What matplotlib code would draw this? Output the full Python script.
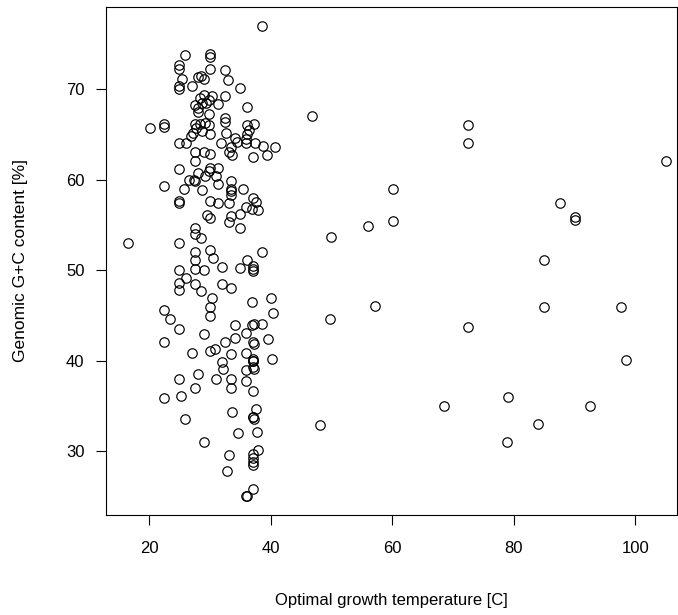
import matplotlib
matplotlib.use("Agg")
import matplotlib.pyplot as plt

plt.rcParams['font.family'] = ['Liberation Sans', 'DejaVu Sans']

# Optimal growth temperature [C]
temperature = [
    38.6, 26.0, 30.0, 30.0, 25.0, 25.0, 30.0, 32.5, 25.5, 28.0, 28.6, 29.1, 33.0, 35.0, 25.0, 25.0,
    27.0, 29.0, 28.4, 30.3, 29.9, 29.4, 32.5, 27.6, 31.4, 28.0, 28.1, 28.7, 36.1, 29.9, 32.5, 32.5,
    20.1, 22.5, 22.5, 27.6, 28.4, 29.2, 29.8, 27.7, 28.8, 27.3, 26.9, 30.1, 36.1, 37.2, 36.5, 36.2,
    32.7, 34.2, 36.0,
    25.0, 26.1, 31.9, 33.5, 33.1, 33.6, 34.4, 36.0, 37.5, 38.8, 40.8, 37.1, 39.4, 27.5, 29.0, 30.0,
    27.5, 25.0, 30.0, 31.3, 29.8, 28.0, 29.2, 31.0, 26.5, 27.4, 27.6, 31.4, 33.5, 22.5, 25.8, 28.7,
    33.5, 33.5, 33.5, 35.5, 25.0, 25.0, 30.0, 31.3, 33.1, 37.1, 37.6, 36.0, 37.0, 38.0, 35.0, 33.5,
    29.5, 30.0, 33.1, 35.0, 27.5, 27.5, 28.5, 25.0, 27.5, 30.0, 30.5, 27.5, 38.6, 36.1,
    25.0, 27.5, 29.1, 32.0, 35.0, 37.1, 37.1, 37.1, 26.1, 25.0, 25.0, 27.5, 28.5, 32.0, 33.5, 30.3,
    30.0, 30.0, 37.0, 40.0, 40.4, 22.5, 23.5, 25.0, 29.0, 22.5, 34.1, 36.9, 37.2, 38.6, 36.0, 34.1,
    32.5, 37.1, 37.2, 39.6, 30.9, 30.0, 27.0, 33.5, 36.0, 37.1, 37.1, 37.1, 40.3, 32.0, 32.1, 37.1,
    37.3, 36.0, 28.1, 31.0, 33.5, 25.0, 36.0, 27.5, 33.5, 37.1,
    22.5, 25.2, 26.0, 33.6, 37.6, 37.1, 37.2, 37.1, 34.7, 37.8, 29.0, 33.1, 38.0, 37.1, 37.1, 37.1,
    37.1, 32.9, 37.1, 36.0, 36.1,
    16.5, 46.8, 60.1, 60.2, 56.0, 50.0, 57.1, 49.8, 48.1, 72.5, 72.5, 105.1, 87.6, 90.1, 90.1, 85.0,
    85.0, 97.6, 72.5, 98.4, 79.1, 68.5, 92.5, 84.0, 78.8,
]

# Genomic G+C content [%]
gc_content = [
    77.0, 73.8, 73.9, 73.6, 72.7, 72.2, 72.2, 72.1, 71.1, 71.3, 71.5, 71.1, 71.0, 70.1, 70.4, 70.0,
    70.4, 69.4, 69.0, 69.2, 68.8, 68.5, 69.2, 68.3, 68.4, 67.9, 67.5, 68.5, 68.0, 67.3, 66.8, 66.4,
    65.7, 66.2, 65.8, 66.1, 66.2, 66.3, 66.0, 65.7, 65.4, 65.1, 64.8, 65.0, 66.0, 66.1, 65.5, 65.0,
    65.1, 64.6, 64.5,
    64.0, 64.0, 64.0, 63.6, 63.0, 62.7, 64.2, 64.0, 64.0, 63.7, 63.6, 62.5, 62.7, 63.0, 63.0, 62.8,
    62.0, 61.2, 61.3, 61.3, 60.9, 60.7, 60.4, 60.4, 59.9, 60.0, 59.8, 59.5, 59.8, 59.3, 59.0, 58.8,
    59.0, 58.7, 58.3, 59.0, 57.6, 57.4, 57.6, 57.4, 57.4, 58.0, 57.5, 57.0, 56.8, 56.6, 56.2, 56.0,
    56.1, 55.8, 55.3, 54.6, 54.6, 54.0, 53.5, 53.0, 52.0, 52.2, 51.3, 51.1, 52.0, 51.1,
    50.0, 50.1, 50.0, 50.3, 50.2, 50.4, 50.1, 49.9, 49.1, 48.6, 47.8, 48.5, 47.7, 48.5, 48.0, 46.9,
    45.9, 44.9, 46.5, 46.9, 45.3, 45.6, 44.6, 43.5, 42.9, 42.0, 43.9, 43.9, 44.0, 44.0, 43.0, 42.5,
    42.0, 42.0, 41.8, 42.4, 41.3, 41.0, 40.8, 40.7, 40.8, 40.2, 40.0, 39.9, 40.2, 39.8, 39.1, 39.3,
    39.1, 38.9, 38.5, 38.0, 38.0, 38.0, 37.7, 37.0, 37.0, 36.6,
    35.9, 36.1, 33.5, 34.3, 34.6, 33.7, 33.5, 33.8, 32.0, 32.1, 31.0, 29.6, 30.1, 29.7, 29.2, 28.8,
    28.5, 27.8, 25.8, 25.0, 25.0,
    53.0, 67.0, 59.0, 55.4, 54.9, 53.7, 46.0, 44.6, 32.9, 66.0, 64.0, 62.0, 57.4, 55.9, 55.5, 51.1,
    45.9, 45.9, 43.7, 40.1, 36.0, 35.0, 35.0, 33.0, 31.0,
]

x_ticks = [20, 40, 60, 80, 100]
y_ticks = [30, 40, 50, 60, 70]

W, H = 678, 615
fig = plt.figure(figsize=(W / 100, H / 100), dpi=100)
ax = fig.add_axes([106 / W, 1 - 515 / H, (677 - 106) / W, (515 - 7) / H])

ax.plot(temperature, gc_content, linestyle='none', marker='o', markersize=6.8,
        markerfacecolor='none', markeredgecolor='black', markeredgewidth=0.85)

ax.set_xlim(12.93, 106.84)
ax.set_ylim(22.92, 79.08)
ax.set_xticks(x_ticks)
ax.set_yticks(y_ticks)
ax.tick_params(direction='out', length=7.5, width=0.8, labelsize=12)
ax.tick_params(axis='x', pad=11)
ax.tick_params(axis='y', pad=8)
for s in ax.spines.values():
    s.set_linewidth(0.8)

ax.set_xlabel('Optimal growth temperature [C]', fontsize=12, labelpad=27)
ax.set_ylabel('Genomic G+C content [%]', fontsize=12.5, labelpad=27)

fig.savefig('out.png', dpi=100)
